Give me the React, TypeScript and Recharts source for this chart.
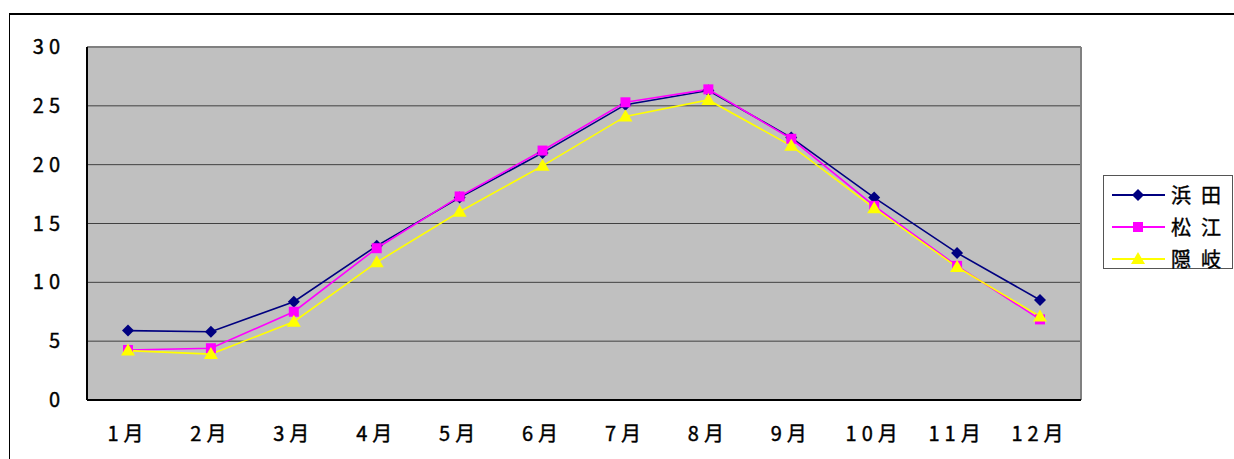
import React from "react";
import {
  LineChart,
  Line,
  XAxis,
  YAxis,
  CartesianGrid,
  ReferenceLine,
} from "recharts";

// 月別平均気温（島根県）
const months = ["1月", "2月", "3月", "4月", "5月", "6月", "7月", "8月", "9月", "10月", "11月", "12月"];
const hamada = [5.9, 5.8, 8.35, 13.1, 17.2, 21.0, 25.1, 26.3, 22.3, 17.2, 12.5, 8.5];
const matsue = [4.25, 4.4, 7.5, 12.9, 17.3, 21.2, 25.3, 26.4, 22.2, 16.5, 11.4, 6.85];
const oki = [4.2, 3.9, 6.65, 11.7, 16.0, 19.9, 24.1, 25.5, 21.6, 16.3, 11.3, 7.1];
const yTicks = [0, 5, 10, 15, 20, 25, 30];
const boundaryTicks = [0, 1, 2, 3, 4, 5, 6, 7, 8, 9, 10, 11, 12];

const data = months.map((m, i) => ({
  month: m,
  idx: i,
  hamada: hamada[i],
  matsue: matsue[i],
  oki: oki[i],
}));

const FONT = '"Noto Sans CJK JP", "Noto Sans", sans-serif';

const Diamond = (props: any) => {
  const { cx, cy } = props;
  if (cx == null || cy == null) return null;
  return (
    <polygon
      points={`${cx},${cy - 6} ${cx + 6},${cy} ${cx},${cy + 6} ${cx - 6},${cy}`}
      fill="#000080"
    />
  );
};

const Square = (props: any) => {
  const { cx, cy } = props;
  if (cx == null || cy == null) return null;
  return <rect x={cx - 5} y={cy - 5} width={10} height={10} fill="#FF00FF" />;
};

const Triangle = (props: any) => {
  const { cx, cy } = props;
  if (cx == null || cy == null) return null;
  return (
    <polygon
      points={`${cx},${cy - 7} ${cx + 7},${cy + 5} ${cx - 7},${cy + 5}`}
      fill="#FFFF00"
    />
  );
};

const series = [
  { key: "hamada", name: "浜田", color: "#000080", width: 1.6, Dot: Diamond },
  { key: "matsue", name: "松江", color: "#FF00FF", width: 1.6, Dot: Square },
  { key: "oki", name: "隠岐", color: "#FFFF00", width: 1.6, Dot: Triangle },
];

const XTick = (props: any) => {
  const { x, y, payload } = props;
  return (
    <text
      x={x}
      y={y + 33}
      textAnchor="middle"
      fontFamily={FONT}
      fontSize={20}
      letterSpacing={5}
      fill="#000"
      stroke="#000"
      strokeWidth={0.4}
    >
      {payload.value}
    </text>
  );
};

const YTick = (props: any) => {
  const { x, y, payload } = props;
  return (
    <text
      x={x - 22}
      y={y + 7}
      textAnchor="end"
      fontFamily={FONT}
      fontSize={20}
      letterSpacing={5}
      fill="#000"
      stroke="#000"
      strokeWidth={0.4}
    >
      {payload.value}
    </text>
  );
};

const LegendBox = () => (
  <div
    style={{
      position: "absolute",
      left: 1103,
      top: 175,
      width: 130,
      height: 94,
      border: "1px solid #555",
      background: "#fff",
      boxSizing: "border-box",
      paddingTop: 3,
    }}
  >
    {series.map((s) => (
      <div
        key={s.key}
        style={{ display: "flex", alignItems: "center", height: 32, whiteSpace: "nowrap" }}
      >
        <svg width={67} height={20} style={{ flex: "none" }}>
          <line x1={8} y1={10} x2={61} y2={10} stroke={s.color} strokeWidth={2} />
          <s.Dot cx={34} cy={10} />
        </svg>
        <span
          style={{
            fontFamily: FONT,
            fontSize: 20,
            letterSpacing: 10,
            lineHeight: "20px",
            color: "#000",
            whiteSpace: "nowrap",
            WebkitTextStroke: "0.4px #000",
          }}
        >
          {s.name}
        </span>
      </div>
    ))}
  </div>
);

export default function App() {
  return (
    <div
      style={{
        position: "absolute",
        left: 0,
        top: 0,
        width: 1234,
        height: 459,
        overflow: "hidden",
        background: "#fff",
      }}
    >
      <div
        style={{
          position: "absolute",
          left: 9,
          top: 13,
          width: 1240,
          height: 460,
          borderTop: "2px solid #000",
          borderLeft: "1px solid #000",
        }}
      />
      <div style={{ position: "absolute", left: 0, top: 0 }}>
        <LineChart
          width={1234}
          height={459}
          data={data}
          margin={{ top: 47, right: 153, bottom: 0, left: 0 }}
        >
          <CartesianGrid
            vertical={false}
            fill="#C0C0C0"
            fillOpacity={1}
            stroke="#404040"
            strokeWidth={1}
          />
          <XAxis
            dataKey="month"
            height={59}
            padding={{ left: 41, right: 41 }}
            axisLine={{ stroke: "#000", strokeWidth: 2 }}
            tickLine={false}
            tick={<XTick />}
            interval={0}
          />
          <XAxis
            xAxisId="bounds"
            type="number"
            dataKey="idx"
            domain={[0, 12]}
            ticks={boundaryTicks}
            allowDataOverflow
            mirror
            height={0}
            interval={0}
            tick={false}
            axisLine={false}
            tickSize={7}
            tickLine={{ stroke: "#000", strokeWidth: 1.5 }}
          />
          <YAxis
            width={87}
            domain={[0, 30]}
            ticks={yTicks}
            interval={0}
            axisLine={{ stroke: "#000", strokeWidth: 2 }}
            tickLine={false}
            tickSize={0}
            tickMargin={0}
            tick={<YTick />}
          />
          <YAxis
            yAxisId="inner"
            domain={[0, 30]}
            ticks={yTicks}
            interval={0}
            mirror
            width={0}
            tick={false}
            axisLine={false}
            tickSize={10}
            tickLine={{ stroke: "#000", strokeWidth: 1.5 }}
          />
          <ReferenceLine y={30} stroke="#808080" strokeWidth={2} />
          <ReferenceLine xAxisId="bounds" x={12} stroke="#808080" strokeWidth={2} />
          {series.map((s) => (
            <Line
              key={s.key}
              type="linear"
              dataKey={s.key}
              name={s.name}
              stroke={s.color}
              strokeWidth={s.width}
              dot={<s.Dot />}
              activeDot={false}
              isAnimationActive={false}
            />
          ))}
        </LineChart>
      </div>
      <LegendBox />
    </div>
  );
}
